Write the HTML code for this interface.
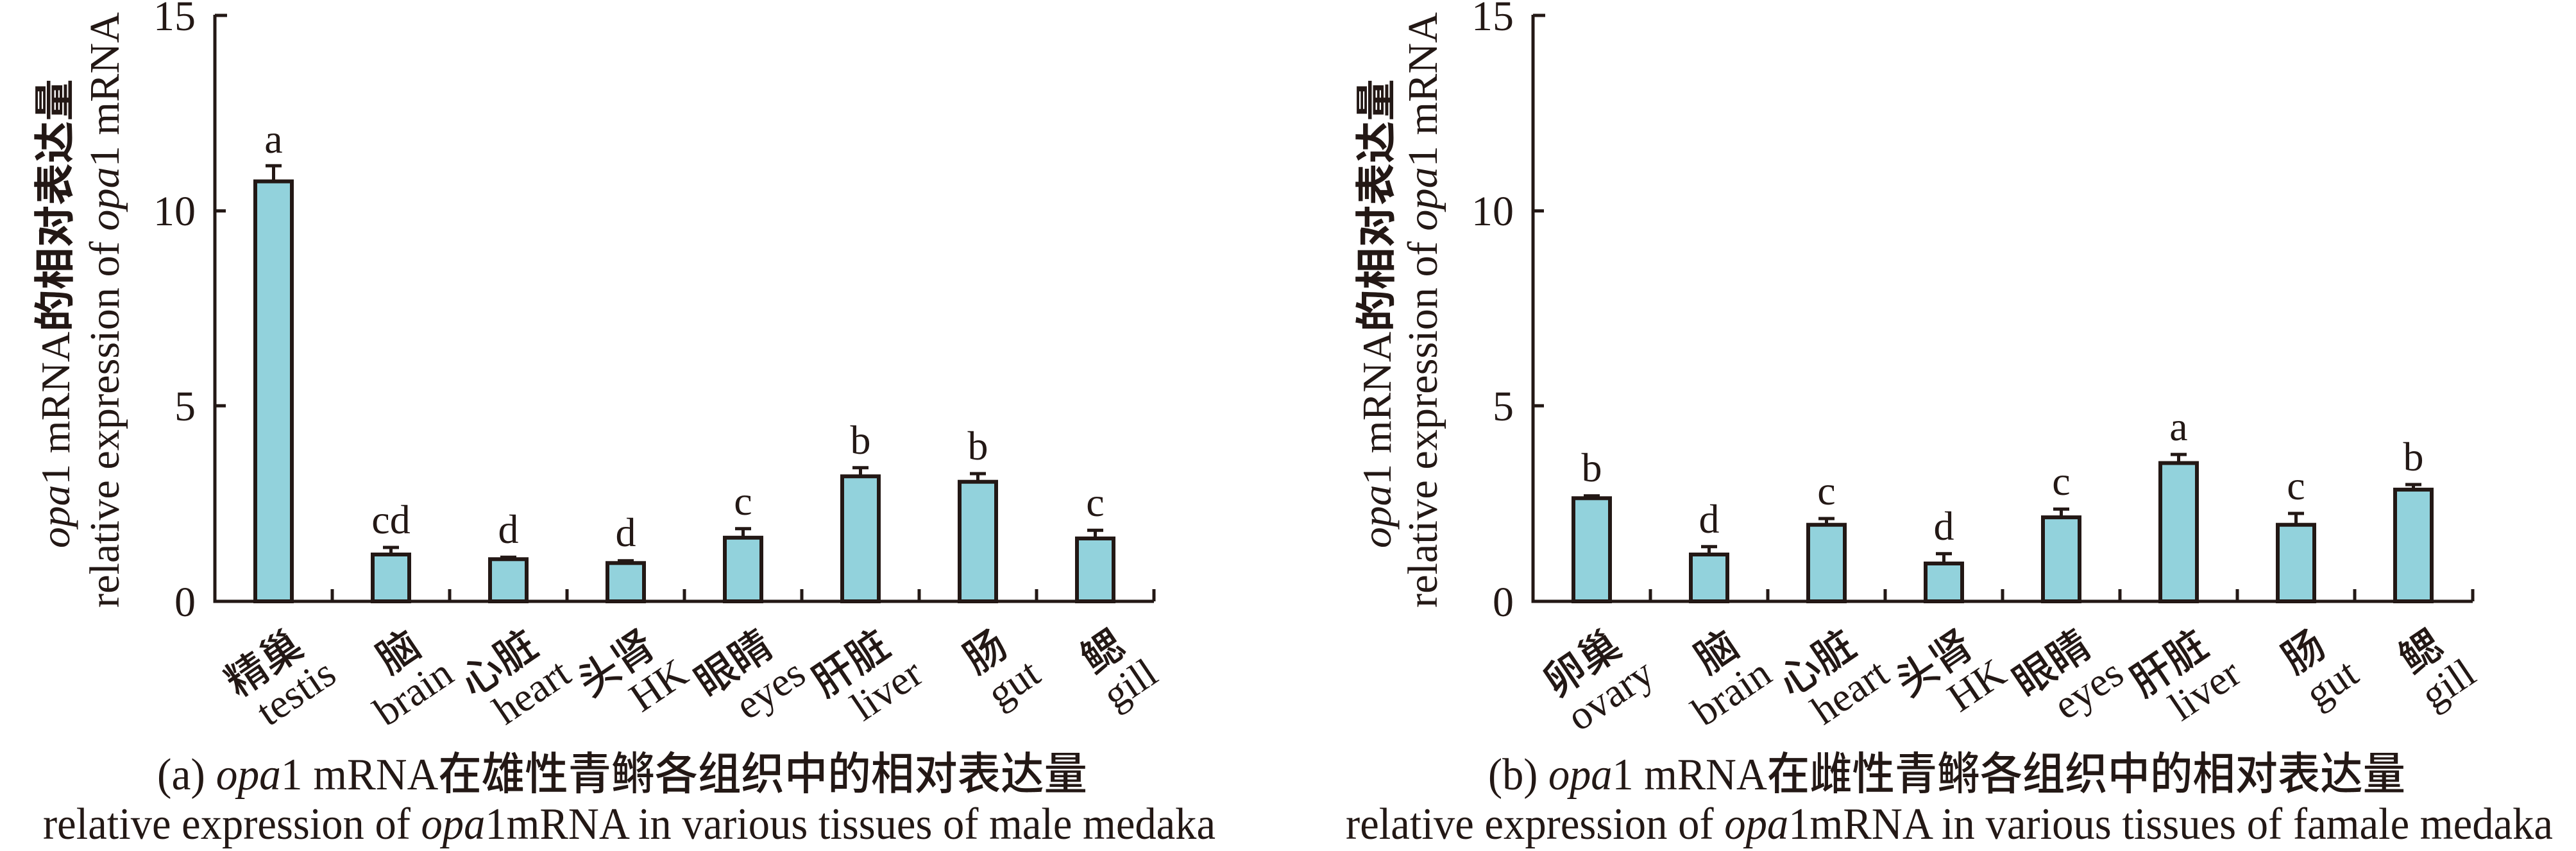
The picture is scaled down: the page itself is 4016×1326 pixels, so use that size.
<!DOCTYPE html>
<html><head><meta charset="utf-8"><style>
html,body{margin:0;padding:0;background:#fff}
body{position:relative;width:4016px;height:1326px;overflow:hidden}
svg{display:block;position:absolute;left:0;top:0}
.s{font-family:"Liberation Serif","Noto Serif CJK SC",serif;fill:#231815}
.c{font-family:"Liberation Serif","Noto Sans CJK SC",sans-serif;fill:#231815}
.cb{font-family:"Noto Sans CJK SC",sans-serif;font-weight:bold;fill:#231815}
.cl{font-family:"Noto Sans CJK SC",sans-serif;font-weight:500;fill:#231815}
.lb{position:absolute;width:300px;height:64px;line-height:64px;font-size:64px;text-align:right;white-space:nowrap;color:#231815;transform-origin:100% 50%;transform:rotate(-34deg)}
.lc{font-family:"Noto Sans CJK SC",sans-serif;font-weight:500}
.le{font-family:"Liberation Serif",serif}
</style></head><body>
<svg width="4016" height="1326" viewBox="0 0 4016 1326" xmlns="http://www.w3.org/2000/svg">
<g stroke="#231815" stroke-width="5" fill="none">
<path d="M335,23 V937 H1799"/>
<path d="M335,24 H354 M335,328.6 H352 M335,632.3 H352"/>
<path d="M518,937 V918 M701,937 V918 M884,937 V918 M1067,937 V918 M1250,937 V918 M1433,937 V918 M1616,937 V918 M1799,937 V918"/>
</g>
<g class="s" font-size="66" text-anchor="end">
<text x="305" y="47">15</text><text x="305" y="351">10</text><text x="305" y="655">5</text><text x="305" y="960">0</text>
</g>
<g fill="#92d2dc" stroke="#231815" stroke-width="6">
<rect x="398" y="282.6" width="57" height="654.4"/>
<rect x="581" y="864" width="57" height="73"/>
<rect x="764" y="871.3" width="57" height="65.7"/>
<rect x="947" y="877.3" width="57" height="59.7"/>
<rect x="1130" y="837.8" width="57" height="99.2"/>
<rect x="1313" y="742.2" width="57" height="194.8"/>
<rect x="1496" y="750.7" width="57" height="186.3"/>
<rect x="1679" y="839" width="57" height="98"/>
</g>
<g stroke="#231815" stroke-width="5" fill="none">
<path d="M426.5,282 V258.3 M414,258.3 H439"/>
<path d="M609.5,864 V853 M597,853 H622"/>
<path d="M792.5,871 V868.2 M780,868.2 H805"/>
<path d="M975.5,877 V873.7 M963,873.7 H988"/>
<path d="M1158.5,837 V823.8 M1146,823.8 H1171"/>
<path d="M1341.5,742 V728.8 M1329,728.8 H1354"/>
<path d="M1524.5,750 V738 M1512,738 H1537"/>
<path d="M1707.5,839 V826.2 M1695,826.2 H1720"/>
</g>
<g class="s" font-size="64" text-anchor="middle">
<text x="426.5" y="238">a</text><text x="609.5" y="831">cd</text><text x="792.5" y="846">d</text><text x="975.5" y="851">d</text>
<text x="1158.5" y="802">c</text><text x="1341.5" y="707">b</text><text x="1524.5" y="716">b</text><text x="1707.5" y="804">c</text>
</g>
<g transform="translate(108,854) rotate(-90)"><text class="c" font-size="64" textLength="731" lengthAdjust="spacingAndGlyphs"><tspan font-style="italic">opa</tspan>1 mRNA<tspan class="cb">的相对表达量</tspan></text></g>
<g transform="translate(185,947) rotate(-90)"><text class="s" font-size="66" textLength="928" lengthAdjust="spacingAndGlyphs">relative expression of <tspan font-style="italic">opa</tspan>1 mRNA</text></g>
<text class="s" font-size="70" x="245" y="1230" textLength="1450" lengthAdjust="spacingAndGlyphs">(a) <tspan font-style="italic">opa</tspan>1 mRNA<tspan class="cl">在雄性青鳉各组织中的相对表达量</tspan></text>
<text class="s" font-size="70" x="67" y="1307" textLength="1828" lengthAdjust="spacingAndGlyphs">relative expression of <tspan font-style="italic">opa</tspan>1mRNA in various tissues of male medaka</text>

<g stroke="#231815" stroke-width="5" fill="none">
<path d="M2390,23 V937 H3855"/>
<path d="M2390,24 H2409 M2390,328.6 H2407 M2390,632.3 H2407"/>
<path d="M2573,937 V918 M2756,937 V918 M2939,937 V918 M3122,937 V918 M3305,937 V918 M3488,937 V918 M3671,937 V918 M3855,937 V918"/>
</g>
<g class="s" font-size="66" text-anchor="end">
<text x="2360" y="47">15</text><text x="2360" y="351">10</text><text x="2360" y="655">5</text><text x="2360" y="960">0</text>
</g>
<g fill="#92d2dc" stroke="#231815" stroke-width="6">
<rect x="2453" y="776.3" width="57" height="160.7"/>
<rect x="2636" y="864" width="57" height="73"/>
<rect x="2819" y="817.7" width="57" height="119.3"/>
<rect x="3002" y="878" width="57" height="59"/>
<rect x="3185" y="806.1" width="57" height="130.9"/>
<rect x="3368" y="721.5" width="57" height="215.5"/>
<rect x="3551" y="817.7" width="57" height="119.3"/>
<rect x="3734" y="762.9" width="57" height="174.1"/>
</g>
<g stroke="#231815" stroke-width="5" fill="none">
<path d="M2481.5,776 V772.6 M2469,772.6 H2494"/>
<path d="M2664.5,864 V851.8 M2652,851.8 H2677"/>
<path d="M2847.5,817 V808 M2835,808 H2860"/>
<path d="M3030.5,878 V862.7 M3018,862.7 H3043"/>
<path d="M3213.5,806 V793.3 M3201,793.3 H3226"/>
<path d="M3396.5,721 V708.1 M3384,708.1 H3409"/>
<path d="M3579.5,817 V800 M3567,800 H3592"/>
<path d="M3762.5,762 V755 M3750,755 H3775"/>
</g>
<g class="s" font-size="64" text-anchor="middle">
<text x="2481.5" y="750">b</text><text x="2664.5" y="830">d</text><text x="2847.5" y="786">c</text><text x="3030.5" y="841">d</text>
<text x="3213.5" y="771">c</text><text x="3396.5" y="686">a</text><text x="3579.5" y="778">c</text><text x="3762.5" y="733">b</text>
</g>
<g transform="translate(2168,854) rotate(-90)"><text class="c" font-size="64" textLength="731" lengthAdjust="spacingAndGlyphs"><tspan font-style="italic">opa</tspan>1 mRNA<tspan class="cb">的相对表达量</tspan></text></g>
<g transform="translate(2240,947) rotate(-90)"><text class="s" font-size="66" textLength="928" lengthAdjust="spacingAndGlyphs">relative expression of <tspan font-style="italic">opa</tspan>1 mRNA</text></g>
<text class="s" font-size="70" x="2320" y="1230" textLength="1430" lengthAdjust="spacingAndGlyphs">(b) <tspan font-style="italic">opa</tspan>1 mRNA<tspan class="cl">在雌性青鳉各组织中的相对表达量</tspan></text>
<text class="s" font-size="70" x="2098" y="1307" textLength="1882" lengthAdjust="spacingAndGlyphs">relative expression of <tspan font-style="italic">opa</tspan>1mRNA in various tissues of famale medaka</text>
</svg>

<!-- rotated category labels: right end at (x,y); left=x-300, top=y-32 -->
<div class="lb lc" style="left:162px;top:962px">精巢</div>
<div class="lb le" style="left:216px;top:1010px">testis</div>
<div class="lb lc" style="left:345px;top:962px">脑</div>
<div class="lb le" style="left:399px;top:1010px">brain</div>
<div class="lb lc" style="left:528px;top:962px">心脏</div>
<div class="lb le" style="left:582px;top:1010px">heart</div>
<div class="lb lc" style="left:711px;top:962px">头肾</div>
<div class="lb le" style="left:765px;top:1010px">HK</div>
<div class="lb lc" style="left:894px;top:962px">眼睛</div>
<div class="lb le" style="left:948px;top:1010px">eyes</div>
<div class="lb lc" style="left:1077px;top:962px">肝脏</div>
<div class="lb le" style="left:1131px;top:1010px">liver</div>
<div class="lb lc" style="left:1260px;top:962px">肠</div>
<div class="lb le" style="left:1314px;top:1010px">gut</div>
<div class="lb lc" style="left:1443px;top:962px">鳃</div>
<div class="lb le" style="left:1497px;top:1010px">gill</div>

<div class="lb lc" style="left:2217px;top:962px">卵巢</div>
<div class="lb le" style="left:2271px;top:1010px">ovary</div>
<div class="lb lc" style="left:2400px;top:962px">脑</div>
<div class="lb le" style="left:2454px;top:1010px">brain</div>
<div class="lb lc" style="left:2583px;top:962px">心脏</div>
<div class="lb le" style="left:2637px;top:1010px">heart</div>
<div class="lb lc" style="left:2766px;top:962px">头肾</div>
<div class="lb le" style="left:2820px;top:1010px">HK</div>
<div class="lb lc" style="left:2949px;top:962px">眼睛</div>
<div class="lb le" style="left:3003px;top:1010px">eyes</div>
<div class="lb lc" style="left:3132px;top:962px">肝脏</div>
<div class="lb le" style="left:3186px;top:1010px">liver</div>
<div class="lb lc" style="left:3315px;top:962px">肠</div>
<div class="lb le" style="left:3369px;top:1010px">gut</div>
<div class="lb lc" style="left:3498px;top:962px">鳃</div>
<div class="lb le" style="left:3552px;top:1010px">gill</div>
</body></html>
